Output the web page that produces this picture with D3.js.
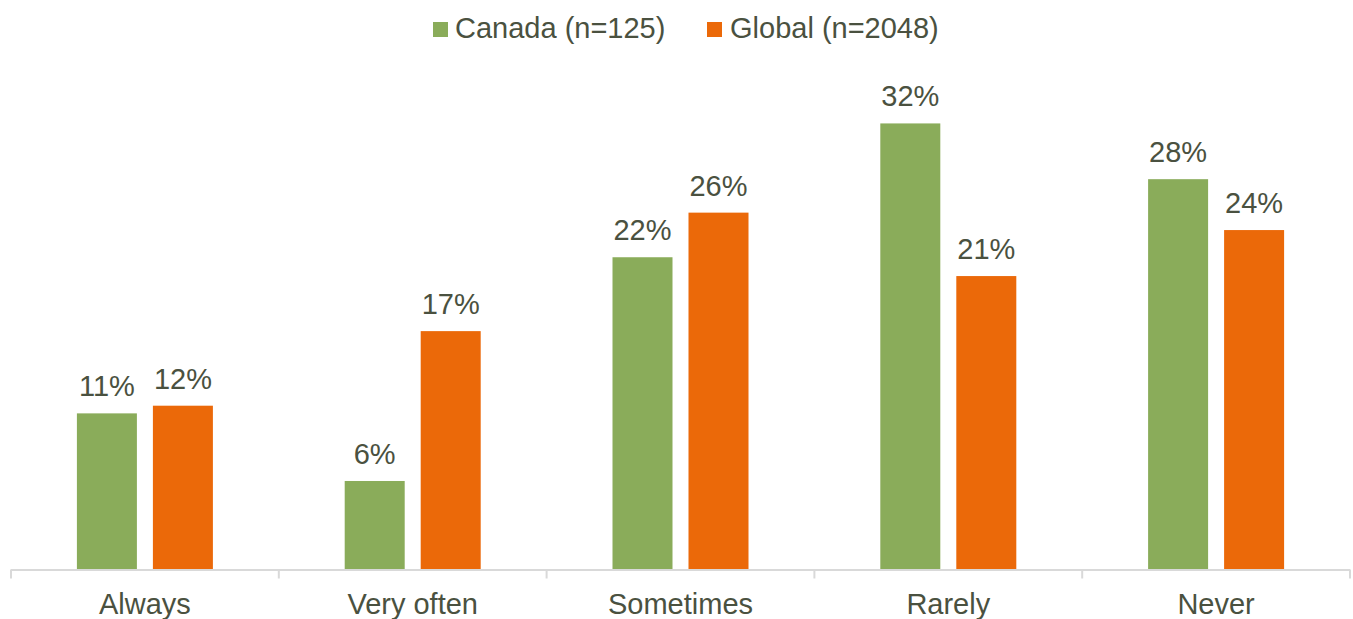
<!DOCTYPE html>
<html>
<head>
<meta charset="utf-8">
<script src="https://cdn.jsdelivr.net/npm/d3@7"></script>
<style>
  html, body { margin: 0; padding: 0; background: #fff; }
  svg { display: block; font-family: "Liberation Sans", Arial, sans-serif; }
</style>
</head>
<body>
<svg id="chart" width="1353" height="619"></svg>
<script>
const categories = ["Always", "Very often", "Sometimes", "Rarely", "Never"];
const seriesNames = ["Canada (n=125)", "Global (n=2048)"];
const canadaValues = [11.2, 6.35, 22.4, 32.0, 28.0];
const globalValues = [11.75, 17.1, 25.6, 21.05, 24.35];
const canadaLabels = ["11%", "6%", "22%", "32%", "28%"];
const globalLabels = ["12%", "17%", "26%", "21%", "24%"];
const colors = ["#8aac5a", "#eb6909"];
const textColor = "#4a5140";

const svg = d3.select("#chart");
const left = 11, right = 1350, baseline = 569.5;

const x = d3.scaleBand().domain(categories).range([left, right]).paddingInner(0).paddingOuter(0);
const bw = x.bandwidth();
const xs = d3.scaleBand().domain([0, 1]).range([bw / 2 - 68, bw / 2 + 68]).paddingInner(16 / 76).paddingOuter(0);
const y = d3.scaleLinear().domain([0, 35]).range([baseline, baseline - 35 * 13.94]);

const series = [
  { values: canadaValues, labels: canadaLabels },
  { values: globalValues, labels: globalLabels }
];

// bars
series.forEach((s, si) => {
  const g = svg.append("g");
  g.selectAll("rect").data(categories).join("rect")
    .attr("x", (d) => x(d) + xs(si))
    .attr("width", xs.bandwidth())
    .attr("y", (d, i) => y(s.values[i]))
    .attr("height", (d, i) => baseline - y(s.values[i]))
    .attr("fill", colors[si]);
  g.selectAll("text").data(categories).join("text")
    .attr("x", (d) => x(d) + xs(si) + xs.bandwidth() / 2)
    .attr("y", (d, i) => y(s.values[i]) - 17)
    .attr("text-anchor", "middle")
    .attr("font-size", 29)
    .attr("fill", textColor)
    .text((d, i) => s.labels[i]);
});

// axis
const axis = svg.append("g");
axis.append("line")
  .attr("x1", left).attr("x2", right)
  .attr("y1", baseline + 0.5).attr("y2", baseline + 0.5)
  .attr("stroke", "#d9d9d9").attr("stroke-width", 2);
const edges = categories.map(c => x(c)).concat([right]);
axis.selectAll("line.tick").data(edges).join("line")
  .attr("class", "tick")
  .attr("x1", d => d).attr("x2", d => d)
  .attr("y1", baseline).attr("y2", baseline + 9)
  .attr("stroke", "#d9d9d9").attr("stroke-width", 2);
axis.selectAll("text").data(categories).join("text")
  .attr("x", d => x(d) + bw / 2)
  .attr("y", 613.5)
  .attr("text-anchor", "middle")
  .attr("font-size", 29)
  .attr("fill", textColor)
  .text(d => d);

// legend
const legendItems = [
  { name: seriesNames[0], color: colors[0], sx: 433, tx: 455 },
  { name: seriesNames[1], color: colors[1], sx: 707, tx: 730 }
];
const lg = svg.append("g");
legendItems.forEach(it => {
  lg.append("rect").attr("x", it.sx).attr("y", 22).attr("width", 15).attr("height", 15).attr("fill", it.color);
  lg.append("text").attr("x", it.tx).attr("y", 37.5)
    .attr("font-size", 29).attr("fill", textColor).text(it.name);
});
</script>
</body>
</html>
